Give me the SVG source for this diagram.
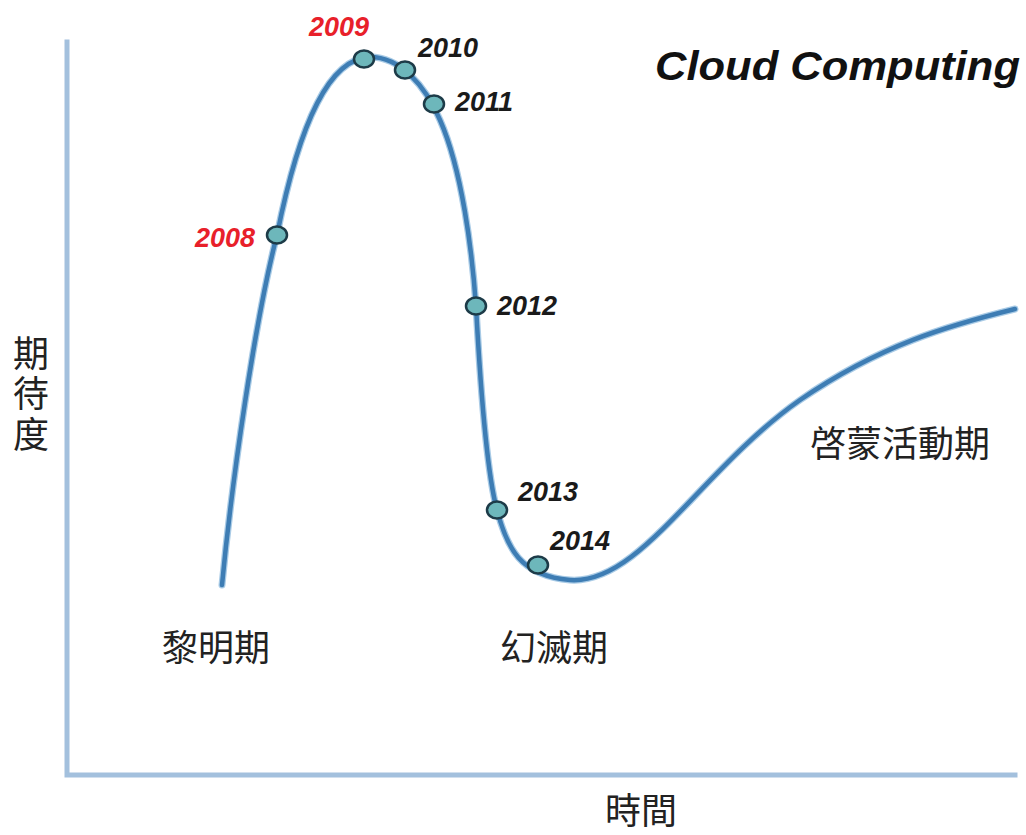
<svg xmlns="http://www.w3.org/2000/svg" width="1026" height="835" viewBox="0 0 1026 835">
  <defs>
    <style>
      .axis { fill: none; stroke: #a3c0dd; stroke-width: 5; stroke-linecap: square; }
      .curve-halo { fill: none; stroke: #a9cbe6; stroke-width: 7; stroke-linecap: round; }
      .curve { fill: none; stroke: #3e7db4; stroke-width: 4.5; stroke-linecap: round; }
      .dot { fill: #6db7bb; stroke: #1d3b48; stroke-width: 2.5; }
      .year { font-family: "Liberation Sans", Arial, sans-serif; font-weight: bold; font-style: italic; font-size: 27px; fill: #1a1a1a; }
      .year.hot { fill: #e8202a; }
      .title { font-family: "Liberation Sans", Arial, sans-serif; font-weight: bold; font-style: italic; font-size: 40px; fill: #111; }
      .cjk { font-family: "Noto Sans CJK TC", "Noto Sans CJK SC", sans-serif; font-size: 36px; fill: #222; }
    </style>
  </defs>

  <rect width="1026" height="835" fill="#ffffff"/>

  <!-- axes -->
  <g id="axes">
    <path class="axis" d="M67,42 V775 H1015"/>
  </g>

  <!-- hype curve -->
  <g id="connectors">
    <path id="hype-curve-halo" class="curve-halo" d="M222,585 C232,480 255,320 277,235 C300,120 330,58 370,57 C400,57 425,85 440,120 C462,170 472,250 476,306 C480,380 486,470 497,510 C507,548 520,576 570,580 C640,585 700,470 800,400 C880,345 950,325 1015,309"/>
    <path id="hype-curve" class="curve" d="M222,585 C232,480 255,320 277,235 C300,120 330,58 370,57 C400,57 425,85 440,120 C462,170 472,250 476,306 C480,380 486,470 497,510 C507,548 520,576 570,580 C640,585 700,470 800,400 C880,345 950,325 1015,309"/>
  </g>

  <!-- yearly positions -->
  <g id="y2008">
    <ellipse class="dot" cx="277" cy="235" rx="10" ry="8.5"/>
    <text class="year hot" x="255" y="247" text-anchor="end">2008</text>
  </g>
  <g id="y2009">
    <ellipse class="dot" cx="364" cy="59" rx="10" ry="8.5"/>
    <text class="year hot" x="309" y="36">2009</text>
  </g>
  <g id="y2010">
    <ellipse class="dot" cx="405" cy="70" rx="10" ry="8.5"/>
    <text class="year" x="418" y="57">2010</text>
  </g>
  <g id="y2011">
    <ellipse class="dot" cx="434" cy="104" rx="10" ry="8.5"/>
    <text class="year" x="455" y="111">2011</text>
  </g>
  <g id="y2012">
    <ellipse class="dot" cx="476" cy="306" rx="10" ry="8.5"/>
    <text class="year" x="497" y="315">2012</text>
  </g>
  <g id="y2013">
    <ellipse class="dot" cx="497" cy="510" rx="10" ry="8.5"/>
    <text class="year" x="518" y="501">2013</text>
  </g>
  <g id="y2014">
    <ellipse class="dot" cx="538" cy="565" rx="10" ry="8.5"/>
    <text class="year" x="550" y="550">2014</text>
  </g>

  <!-- title -->
  <g id="title">
    <text class="title" x="655" y="80" textLength="365" lengthAdjust="spacingAndGlyphs">Cloud Computing</text>
  </g>

  <!-- phase labels -->
  <g id="phase-dawn">
    <text class="cjk" x="162" y="661">黎明期</text>
  </g>
  <g id="phase-disillusion">
    <text class="cjk" x="500" y="661">幻滅期</text>
  </g>
  <g id="phase-enlightenment">
    <text class="cjk" x="810" y="457">啓蒙活動期</text>
  </g>

  <!-- axis labels -->
  <g id="axis-y-label">
    <text class="cjk" x="31" y="335" writing-mode="vertical-rl" letter-spacing="4.5">期待度</text>
  </g>
  <g id="axis-x-label">
    <text class="cjk" x="605" y="824">時間</text>
  </g>
</svg>
